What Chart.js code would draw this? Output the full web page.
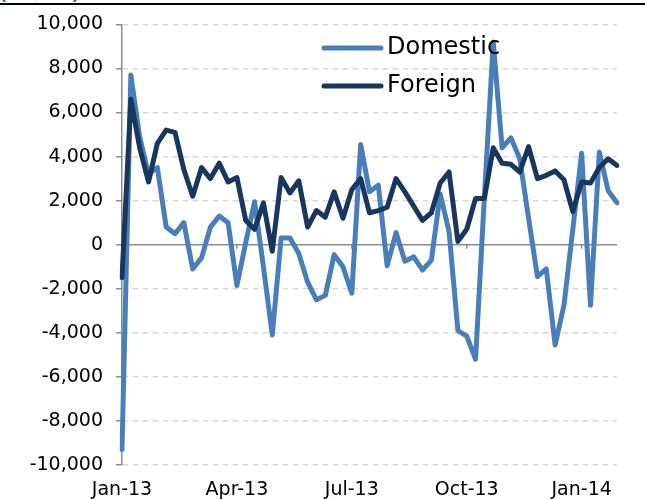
<html>
<head>
<script src="https://cdn.jsdelivr.net/npm/chart.js@4"></script>
<style>
body{margin:0;background:#fff;}
#wrap{position:relative;width:645px;height:500px;overflow:hidden;}
#unit{position:absolute;left:0;top:-18px;font:bold 18px "Liberation Sans";color:#2a5db0;}
#rule{position:absolute;left:0;top:3px;width:645px;height:2px;background:#000;}
</style>
</head>
<body>
<div id="wrap">
<canvas id="flows" width="645" height="500"></canvas>
<div id="unit">(US$ mn)</div>
<div id="rule"></div>
</div>
<script>
// weekly net flows, Jan-13 .. Feb-14
var domestic = [-9300, 7700, 4900, 3200, 3500, 800, 500, 1000, -1100, -600,
  800, 1300, 1000, -1850, 100, 1950, -1000, -4100, 300, 300,
  -400, -1700, -2500, -2300, -450, -1000, -2200, 4550, 2400, 2700,
  -950, 550, -750, -550, -1150, -700, 2300, 600, -3900, -4150,
  -5200, 2200, 9200, 4400, 4850, 3900, 1200, -1450, -1100, -4550,
  -2750, 700, 4150, -2750, 4200, 2450, 1900];
var foreign = [-1500, 6600, 4400, 2850, 4600, 5200, 5100, 3400, 2200, 3500,
  3000, 3700, 2850, 3050, 1100, 700, 1900, -300, 3050, 2350,
  2900, 800, 1550, 1250, 2400, 1200, 2500, 3000, 1450, 1550,
  1700, 3000, 2400, 1750, 1100, 1450, 2800, 3300, 150, 700,
  2100, 2100, 4400, 3700, 3650, 3300, 4450, 3000, 3150, 3350,
  2950, 1500, 2850, 2800, 3500, 3900, 3600];
var tickLabels = ['Jan-13', 'Apr-13', 'Jul-13', 'Oct-13', 'Jan-14'];
var tickWeeks = [0, 13, 26, 39, 52];
var weeks = domestic.map(function(v, i){ return i; });

var domColor = '#4a7ebb';
var forColor = '#17375e';
var axisGray = '#8c8c8c';

var extras = {
  id: 'extras',
  beforeDatasetsDraw: function(chart){
    var c = chart.ctx, a = chart.chartArea;
    var y0 = chart.scales.y.getPixelForValue(0);
    c.save();
    c.strokeStyle = axisGray;
    c.lineWidth = 1.5;
    c.beginPath();
    c.moveTo(a.left, y0);
    c.lineTo(a.right, y0);
    tickWeeks.forEach(function(w){
      var x = chart.scales.x.getPixelForValue(w);
      c.moveTo(x, y0);
      c.lineTo(x, y0 + 4);
    });
    c.stroke();
    c.restore();
  },
  afterDraw: function(chart){
    var c = chart.ctx, a = chart.chartArea;
    var items = [['Domestic', domColor, 48], ['Foreign', forColor, 86]];
    c.save();
    c.lineCap = 'round';
    c.lineWidth = 5;
    c.font = '24px "DejaVu Sans"';
    c.textBaseline = 'middle';
    items.forEach(function(it){
      c.strokeStyle = it[1];
      c.beginPath();
      c.moveTo(a.left + 202, it[2]);
      c.lineTo(a.left + 259, it[2]);
      c.stroke();
      c.fillStyle = '#000';
      c.fillText(it[0], a.left + 265, it[2]);
    });
    c.restore();
  }
};

new Chart(document.getElementById('flows'), {
  type: 'line',
  data: {
    labels: weeks,
    datasets: [{
      label: 'Domestic',
      data: domestic,
      borderColor: domColor,
      borderWidth: 5,
      pointRadius: 0,
      tension: 0,
      borderJoinStyle: 'round',
      borderCapStyle: 'round',
      order: 2
    }, {
      label: 'Foreign',
      data: foreign,
      borderColor: forColor,
      borderWidth: 5,
      pointRadius: 0,
      tension: 0,
      borderJoinStyle: 'round',
      borderCapStyle: 'round',
      order: 1
    }]
  },
  options: {
    responsive: false,
    animation: false,
    devicePixelRatio: 1,
    layout: {padding: {top: 22, right: 28, bottom: 0, left: 0}},
    plugins: {legend: {display: false}, tooltip: {enabled: false}},
    scales: {
      x: {
        offset: false,
        afterFit: function(s){ s.height = 35; },
        grid: {display: false, drawTicks: false},
        border: {display: false},
        ticks: {
          autoSkip: false,
          maxRotation: 0,
          padding: 14,
          color: '#000',
          font: {family: 'DejaVu Sans', size: 19},
          callback: function(v, i){
            var k = tickWeeks.indexOf(i);
            return k < 0 ? '' : tickLabels[k];
          }
        }
      },
      y: {
        min: -10000,
        max: 10000,
        afterFit: function(s){ s.width = 122; },
        grid: {
          color: function(ctx){ return ctx.tick && ctx.tick.value === 0 ? 'rgba(0,0,0,0)' : '#d9d9d9'; },
          lineWidth: 1.5,
          tickLength: 6,
          tickColor: axisGray,
          tickWidth: 1.5
        },
        border: {display: true, color: axisGray, width: 1.5, dash: [6, 4]},
        ticks: {
          stepSize: 2000,
          padding: 13,
          color: '#000',
          font: {family: 'DejaVu Sans', size: 19},
          callback: function(v){ return v.toLocaleString('en-US'); }
        }
      }
    }
  },
  plugins: [extras]
});
</script>
</body>
</html>
